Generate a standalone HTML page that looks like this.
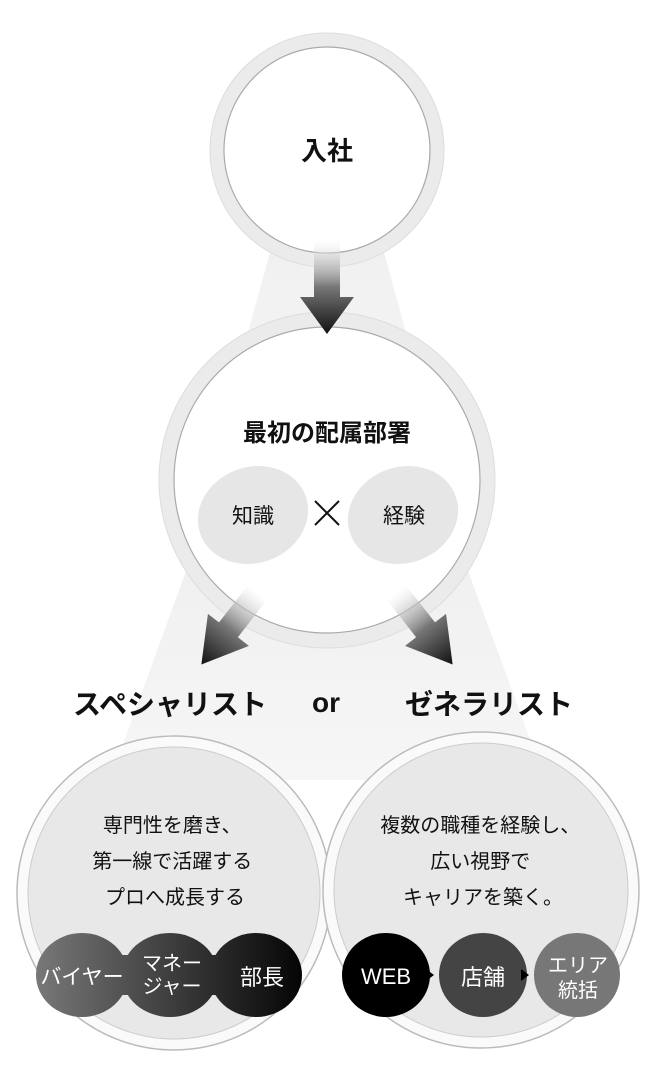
<!DOCTYPE html>
<html><head><meta charset="utf-8"><style>
html,body{margin:0;padding:0;background:#fff;}
svg{display:block;}
text{font-family:"Liberation Sans","Noto Sans CJK JP",sans-serif;}
</style></head><body>
<svg width="654" height="1090" viewBox="0 0 654 1090" xmlns="http://www.w3.org/2000/svg">
<defs>
<linearGradient id="cone" x1="0" y1="0" x2="0" y2="1"><stop offset="0" stop-color="#f0f0f0"/><stop offset="1" stop-color="#f6f6f6"/></linearGradient>
<linearGradient id="arr" x1="0" y1="0" x2="0" y2="1"><stop offset="0" stop-color="#fff" stop-opacity="0.3"/><stop offset="0.5" stop-color="#777"/><stop offset="1" stop-color="#111"/></linearGradient>
<linearGradient id="chain" gradientUnits="userSpaceOnUse" x1="38" y1="0" x2="302" y2="0"><stop offset="0" stop-color="#777"/><stop offset="1" stop-color="#050505"/></linearGradient>
</defs>
<!-- cones -->
<polygon points="272,245 382,245 430,420 224,420" fill="url(#cone)"/>
<polygon points="190,560 464,560 545,780 110,780" fill="url(#cone)"/>
<!-- top circle -->
<circle cx="327" cy="150" r="117" fill="#ebebeb" stroke="#ddd" stroke-width="1"/>
<circle cx="327" cy="150" r="103" fill="#fff" stroke="#aaa" stroke-width="1.2"/>
<text x="327" y="160" font-size="26" font-weight="bold" text-anchor="middle" fill="#111">入社</text>
<!-- second circle -->
<circle cx="327" cy="480" r="168" fill="#ebebeb" stroke="#ddd" stroke-width="1"/>
<circle cx="327" cy="480" r="153" fill="#fff" stroke="#aaa" stroke-width="1.2"/>
<text x="327" y="441" font-size="24" font-weight="bold" text-anchor="middle" fill="#111">最初の配属部署</text>
<ellipse cx="253" cy="515" rx="56" ry="48" fill="#e6e6e6" transform="rotate(-20 253 515)"/>
<ellipse cx="403" cy="515" rx="56" ry="48" fill="#e6e6e6" transform="rotate(-20 403 515)"/>
<text x="253" y="523" font-size="21" text-anchor="middle" fill="#111">知識</text>
<text x="404" y="523" font-size="21" text-anchor="middle" fill="#111">経験</text>
<path d="M315 501 L339 525 M339 501 L315 525" stroke="#111" stroke-width="2"/>
<!-- down arrow -->
<polygon points="314,240 340,240 340,297 354,297 327,334 300,297 314,297" fill="url(#arr)"/>
<!-- diagonal arrows -->
<g transform="translate(258,592) rotate(38)">
<polygon points="-12,0 12,0 12,48 26,48 0,92 -26,48 -12,48" fill="url(#arr)"/>
</g>
<g transform="translate(396,592) rotate(-38)">
<polygon points="-12,0 12,0 12,48 26,48 0,92 -26,48 -12,48" fill="url(#arr)"/>
</g>
<!-- headings -->
<text x="170" y="714" font-size="28" font-weight="bold" text-anchor="middle" fill="#111">スペシャリスト</text>
<text x="326" y="712" font-size="28" font-weight="bold" text-anchor="middle" fill="#111">or</text>
<text x="489" y="714" font-size="28" font-weight="bold" text-anchor="middle" fill="#111">ゼネラリスト</text>
<!-- bottom circles -->
<circle cx="174" cy="893" r="157" fill="#fafafa" stroke="#bbb" stroke-width="1.5"/>
<circle cx="481" cy="890" r="158" fill="#fafafa" stroke="#bbb" stroke-width="1.5"/>
<circle cx="174" cy="893" r="146" fill="#e8e8e8" stroke="#ccc"/>
<circle cx="481" cy="890" r="147" fill="#e8e8e8" stroke="#ccc"/>
<text font-size="20" text-anchor="middle" fill="#111">
<tspan x="175" y="832">専門性を磨き、</tspan>
<tspan x="175" y="868">第一線で活躍する</tspan>
<tspan x="175" y="904">プロへ成長する</tspan>
</text>
<text font-size="20" text-anchor="middle" fill="#111">
<tspan x="483" y="832">複数の職種を経験し、</tspan>
<tspan x="483" y="868">広い視野で</tspan>
<tspan x="483" y="904">キャリアを築く。</tspan>
</text>
<!-- chain -->
<g fill="url(#chain)">
<ellipse cx="82" cy="975" rx="46" ry="42"/>
<ellipse cx="170" cy="975" rx="48" ry="42"/>
<ellipse cx="256" cy="975" rx="46" ry="42"/>
<rect x="82" y="955" width="174" height="40"/>
</g>
<text x="82" y="984" font-size="21" text-anchor="middle" fill="#fff">バイヤー</text>
<text font-size="20" text-anchor="middle" fill="#fff"><tspan x="172" y="970">マネー</tspan><tspan x="172" y="993">ジャー</tspan></text>
<text x="262" y="985" font-size="22" text-anchor="middle" fill="#fff">部長</text>
<ellipse cx="386" cy="975" rx="44" ry="42" fill="#000"/>
<ellipse cx="483" cy="975" rx="44" ry="42" fill="#444"/>
<ellipse cx="577" cy="975" rx="43" ry="42" fill="#777"/>
<polygon points="426,969 434,975 426,981" fill="#000"/>
<polygon points="521,969 529,975 521,981" fill="#000"/>
<text x="386" y="984" font-size="22" text-anchor="middle" fill="#fff">WEB</text>
<text x="483" y="985" font-size="22" text-anchor="middle" fill="#fff">店舗</text>
<text font-size="20" text-anchor="middle" fill="#fff"><tspan x="578" y="972">エリア</tspan><tspan x="578" y="997">統括</tspan></text>
</svg>
</body></html>
